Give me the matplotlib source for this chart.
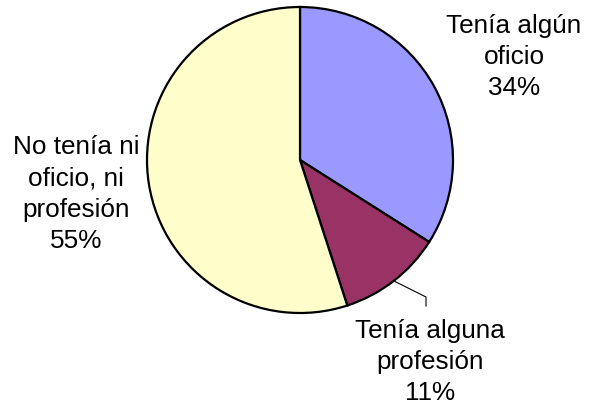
import numpy as np
import matplotlib.pyplot as plt

categories = ['Tenía algún\noficio', 'Tenía alguna\nprofesión', 'No tenía ni\noficio, ni\nprofesión']
values = [34, 11, 55]
colors = ['#9999FF', '#993366', '#FFFFCC']

W, H = 589, 410
cx, cy, r = 300, H - 161, 153

fig = plt.figure(figsize=(W / 100, H / 100), dpi=100)
ax = fig.add_axes([0, 0, 1, 1])

wedges, _ = ax.pie(values, colors=colors, startangle=90, counterclock=False,
                   center=(cx, cy), radius=r, frame=True,
                   wedgeprops=dict(edgecolor='black', linewidth=1.6))
ax.set_xlim(0, W)
ax.set_ylim(0, H)
ax.set_aspect('equal')
ax.axis('off')

# label positions (pixel coords, y from top)
label_pos = [(514, 57), (430, 362), (76, 194)]
for cat, val, (lx, ly) in zip(categories, values, label_pos):
    ax.text(lx, H - ly, f'{cat}\n{val}%', ha='center', va='center',
            multialignment='center', fontsize=18.8, family='Liberation Sans',
            linespacing=1.38)

# leader line for the small slice
mid = np.deg2rad(90 - (values[0] + values[1] / 2) / sum(values) * 360)
sx, sy = cx + r * np.cos(mid), cy + r * np.sin(mid)
ax.plot([sx, 426, 426], [sy, H - 298, H - 307], color='black', lw=0.8)

fig.savefig('out.png', dpi=100)
